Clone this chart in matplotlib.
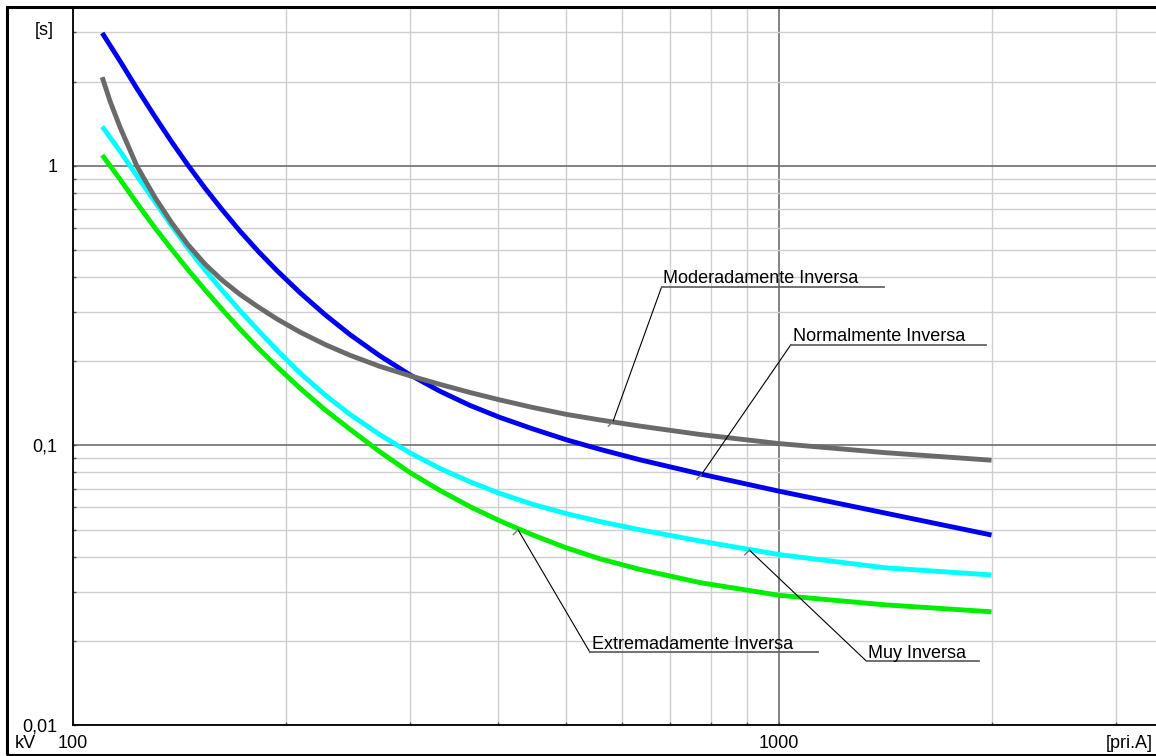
import matplotlib
matplotlib.use("Agg")
import matplotlib.pyplot as plt
from matplotlib.ticker import FixedLocator, FixedFormatter, NullFormatter
from matplotlib.patches import Rectangle
from matplotlib import transforms

plt.rcParams["font.family"] = ["Liberation Sans", "DejaVu Sans"]

# Primary current [A] at which the characteristics are tabulated
current = [110, 116.6, 123.2, 130.7, 138.1, 145.5, 153.8, 162.6, 172.4, 182.8,
           194.5, 209.7, 227.5, 246.9, 272.2, 300, 331, 365, 402.5, 448.3,
           500, 557.8, 635.6, 773, 1000, 1413, 2000]
mi_current = [110, 112.8] + current[1:]

# Tripping time [s]
ni_time = [2.985, 2.367, 1.888, 1.496, 1.213, 1.005, 0.832, 0.697, 0.584, 0.4955,
           0.4217, 0.3516, 0.2935, 0.2488, 0.2089, 0.1789, 0.1562, 0.1390, 0.1259,
           0.1145, 0.1047, 0.0968, 0.0888, 0.0791, 0.0686, 0.0573, 0.0478]
mi_time = [2.074, 1.707, 1.373, 0.996, 0.769, 0.623, 0.522, 0.445, 0.390, 0.3467,
           0.3131, 0.2832, 0.2542, 0.2295, 0.2100, 0.1916, 0.1775, 0.1653, 0.1546,
           0.1454, 0.1366, 0.1291, 0.1233, 0.1172, 0.1094, 0.1015, 0.0942, 0.0885]
vi_time = [1.382, 1.127, 0.919, 0.742, 0.608, 0.507, 0.424, 0.3585, 0.3034, 0.2585,
           0.2191, 0.1815, 0.1515, 0.1290, 0.1091, 0.0941, 0.0827, 0.0741, 0.0673,
           0.0615, 0.0570, 0.0534, 0.0499, 0.0455, 0.0407, 0.0365, 0.0344]
ei_time = [1.092, 0.894, 0.734, 0.599, 0.501, 0.425, 0.360, 0.3067, 0.2606, 0.2231,
           0.1911, 0.1601, 0.1341, 0.1141, 0.0948, 0.0800, 0.0690, 0.0604, 0.0537,
           0.0478, 0.0430, 0.0393, 0.0360, 0.0323, 0.0291, 0.0269, 0.0254]

curve_names = ["Normalmente Inversa", "Extremadamente Inversa", "Muy Inversa",
               "Moderadamente Inversa"]

x_major = [100, 1000]
x_major_labels = ["100", "1000"]
x_minor = [200, 300, 400, 500, 600, 700, 800, 900, 2000, 3000]
y_major = [0.01, 0.1, 1]
y_major_labels = ["0,01", "0,1", "1"]
y_minor = [0.02, 0.03, 0.04, 0.05, 0.06, 0.07, 0.08, 0.09,
           0.2, 0.3, 0.4, 0.5, 0.6, 0.7, 0.8, 0.9, 2, 3]

W, H = 1156, 756
fig = plt.figure(figsize=(W / 100, H / 100), dpi=100)
fig.patch.set_facecolor("white")

# outer frame of the sheet
fig.add_artist(Rectangle((7 / W, 1 - 755 / H), 1.2, (755 - 7) / H,
                         transform=fig.transFigure, fill=False, lw=2.2,
                         ec="black", clip_on=False))

ax = fig.add_axes([73 / W, 1 - 725 / H, (W - 73) / W, (725 - 8) / H])
ax.set_xscale("log")
ax.set_yscale("log")
ax.set_xlim(100, 3420)
ax.set_ylim(0.01, 3.667)

ax.xaxis.set_major_locator(FixedLocator(x_major))
ax.xaxis.set_major_formatter(FixedFormatter(x_major_labels))
ax.xaxis.set_minor_locator(FixedLocator(x_minor))
ax.xaxis.set_minor_formatter(NullFormatter())
ax.yaxis.set_major_locator(FixedLocator(y_major))
ax.yaxis.set_major_formatter(FixedFormatter(y_major_labels))
ax.yaxis.set_minor_locator(FixedLocator(y_minor))
ax.yaxis.set_minor_formatter(NullFormatter())

ax.grid(which="minor", color="#cfcfcf", lw=1.0)
ax.grid(which="major", color="#6e6e6e", lw=1.2)
ax.set_axisbelow(True)

ax.tick_params(which="both", direction="in", length=2.5, width=1.0,
               color="#555555", labelsize=13)
ax.tick_params(axis="x", which="major", pad=7)
ax.tick_params(axis="y", which="major", pad=11)

for side in ("top", "right"):
    ax.spines[side].set_visible(False)
for side in ("left", "bottom"):
    ax.spines[side].set_linewidth(1.3)
    ax.spines[side].set_color("black")

series = {
    "Normalmente Inversa": (current, ni_time, "#0000f0"),
    "Extremadamente Inversa": (current, ei_time, "#00ee00"),
    "Muy Inversa": (current, vi_time, "#00ffff"),
    "Moderadamente Inversa": (mi_current, mi_time, "#6a6a6a"),
}
for name in curve_names:
    cur, t, col = series[name]
    ax.plot(cur, t, color=col, lw=3.5, solid_capstyle="butt",
            solid_joinstyle="round", zorder=3)

# leader annotations: (curve, point on curve, underline start, underline end current)
labels = [
    ("Moderadamente Inversa", (582, 0.1218), (682, 0.369), 1410),
    ("Normalmente Inversa", (777, 0.0788), (1040, 0.2295), 1962),
    ("Extremadamente Inversa", (427, 0.0499), (540, 0.01817), 1137),
    ("Muy Inversa", (908, 0.0422), (1331, 0.01689), 1920),
]
text_tr = transforms.offset_copy(ax.transData, fig=fig, x=1.5, y=3.5, units="dots")
for name, (px, py), (sx, sy), ex in labels:
    ax.plot([px, sx], [py, sy], color="black", lw=0.8, zorder=4)
    # small stub marking the leader tip
    ax.annotate("", xy=(px, py), xytext=(-3.5, -3.5), textcoords="offset points",
                arrowprops=dict(arrowstyle="-", color="#777777", lw=1.0,
                                shrinkA=0, shrinkB=0), zorder=4)
    ax.plot([sx, ex], [sy, sy], color="#666666", lw=1.3, zorder=4)
    ax.text(sx, sy, name, transform=text_tr, ha="left", va="baseline",
            fontsize=13, color="black", zorder=5)

fig.text(54 / W, 1 - 35 / H, "[s]", ha="right", va="baseline", fontsize=13)
fig.text(15 / W, 1 - 748 / H, "kV", ha="left", va="baseline", fontsize=13)
fig.text(1153 / W, 1 - 748 / H, "[pri.A]", ha="right", va="baseline", fontsize=13)

fig.savefig("out.png", dpi=100)
